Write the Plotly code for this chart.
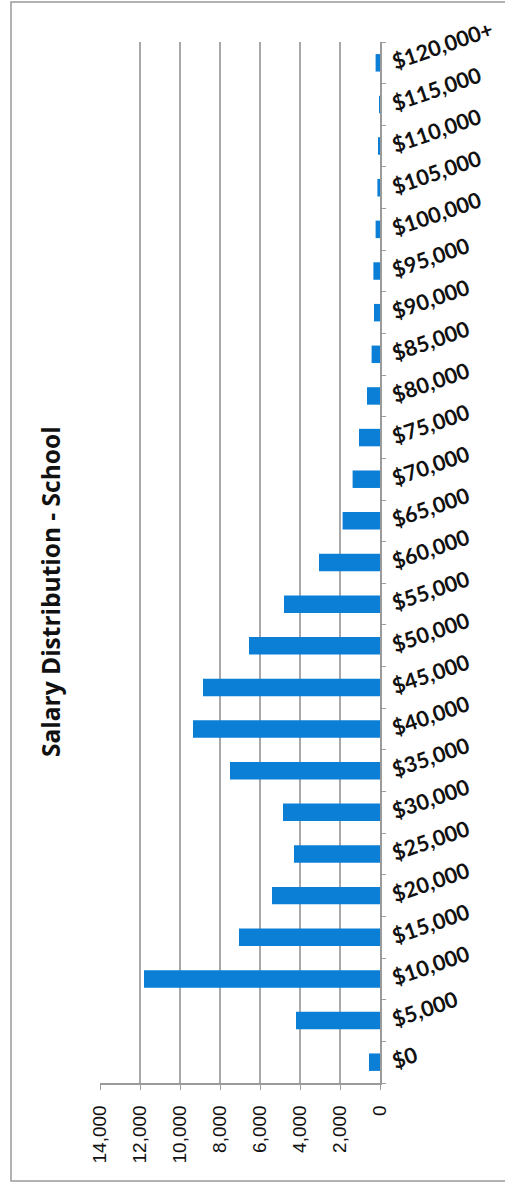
import plotly.graph_objects as go

# Salary bands (bottom to top) and head counts per band
salary_bands = ["$0", "$5,000", "$10,000", "$15,000", "$20,000", "$25,000",
                "$30,000", "$35,000", "$40,000", "$45,000", "$50,000",
                "$55,000", "$60,000", "$65,000", "$70,000", "$75,000",
                "$80,000", "$85,000", "$90,000", "$95,000", "$100,000",
                "$105,000", "$110,000", "$115,000", "$120,000+"]
counts = [550, 4200, 11800, 7050, 5400, 4300, 4850, 7500, 9350, 8850, 6550,
          4800, 3050, 1870, 1370, 1050, 650, 420, 300, 330, 220, 130, 100, 30, 220]
value_ticks = [0, 2000, 4000, 6000, 8000, 10000, 12000, 14000]

W, H = 505, 1190
PL, PR, PT, PB = 100, 380, 42, 1083  # plot area in pixels


def px_x(p):
    return (p - PL) / (PR - PL)


def px_y(p):
    return (PB - p) / (PB - PT)


fig = go.Figure(go.Bar(
    x=counts, y=salary_bands, orientation="h",
    marker=dict(color="#0A7FD5", line=dict(width=0)),
))

fig.update_layout(
    width=W, height=H,
    margin=dict(l=PL, r=W - PR, t=PT, b=H - PB, autoexpand=False),
    paper_bgcolor="white", plot_bgcolor="white",
    bargap=0.58, showlegend=False,
    font=dict(family="Lato", color="#111111"),
)

fig.update_xaxes(
    range=[14000, 0], tickvals=value_ticks, tickformat=",",
    tickangle=-90, ticks="outside", ticklen=5, tickcolor="#9A9A9A",
    ticklabelstandoff=8,
    showline=True, linecolor="#9A9A9A", linewidth=1.5,
    showgrid=True, gridcolor="#A8A8A8", gridwidth=1.5, zeroline=False,
    tickfont=dict(family="Liberation Sans", size=19, color="#111111"),
    automargin=False,
)

fig.update_yaxes(
    type="category", categoryorder="array", categoryarray=salary_bands,
    side="right", tickangle=-19, ticks="outside", ticklen=4,
    tickson="boundaries", tickcolor="#9A9A9A", ticklabelstandoff=6,
    showline=True, linecolor="#9A9A9A", linewidth=1.5, showgrid=False,
    tickfont=dict(family="Lato", size=21.5, color="#111111", weight="bold"),
    automargin=False,
)

# chart frame
fig.add_shape(type="rect", xref="paper", yref="paper",
              x0=px_x(11), x1=px_x(515), y0=px_y(1181), y1=px_y(2),
              line=dict(color="#9A9A9A", width=1.5), fillcolor="rgba(0,0,0,0)")

fig.add_annotation(
    text="<b>Salary Distribution - School</b>", xref="paper", yref="paper",
    x=px_x(50), y=px_y(592), xanchor="center", yanchor="middle",
    showarrow=False, textangle=-90,
    font=dict(family="Open Sans", size=24.5, color="#111111"),
)

fig.write_html("out.html")
